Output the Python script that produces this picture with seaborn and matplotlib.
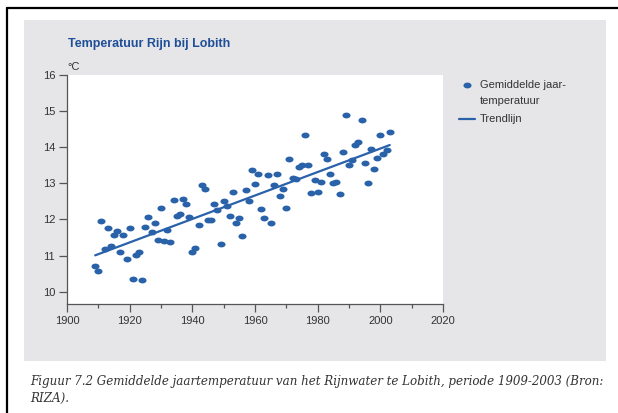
import matplotlib
matplotlib.use("Agg")
import matplotlib.pyplot as plt
from matplotlib import font_manager as fm
from matplotlib.path import Path
from matplotlib.patches import Rectangle
from matplotlib.lines import Line2D
from matplotlib.legend_handler import HandlerPathCollection
import numpy as np
import pandas as pd
import seaborn as sns

# ---- data ----
years = list(range(1909, 2004))
temps = [
    10.70, 10.56, 11.97, 11.18, 11.76, 11.27, 11.56, 11.67, 11.11, 11.57,  # 1909-1918
    10.90, 11.76, 10.35, 11.02, 11.09, 10.33, 11.78, 12.06, 11.64, 11.90,  # 1919-1928
    11.43, 12.32, 11.40, 11.71, 11.39, 12.55, 12.10, 12.15, 12.56, 12.42,  # 1929-1938
    12.06, 11.09, 11.20, 11.86, 12.96, 12.85, 11.99, 11.99, 12.42, 12.27,  # 1939-1948
    11.33, 12.52, 12.38, 12.11, 12.75, 11.91, 12.03, 11.53, 12.82, 12.51,  # 1949-1958
    13.37, 12.99, 13.26, 12.29, 12.04, 13.22, 11.89, 12.96, 13.27, 12.64,  # 1959-1968
    12.84, 12.31, 13.68, 13.15, 13.12, 13.46, 13.52, 14.33, 13.52, 12.73,  # 1969-1978
    13.09, 12.75, 13.04, 13.80, 13.67, 13.26, 13.02, 13.04, 12.71, 13.86,  # 1979-1988
    14.90, 13.50, 13.66, 14.06, 14.15, 14.75, 13.56, 13.02, 13.95, 13.39,  # 1989-1998
    13.71, 14.33, 13.80, 13.92, 14.42,                                      # 1999-2003
]
x_major = [1900, 1920, 1940, 1960, 1980, 2000, 2020]
x_minor = [1910, 1930, 1950, 1970, 1990, 2010]
y_ticks = [10, 11, 12, 13, 14, 15, 16]
title = "Temperatuur Rijn bij Lobith"
unit = "\u00b0C"
label_points = "Gemiddelde jaar-\ntemperatuur"
label_trend = "Trendlijn"
caption = ("Figuur 7.2 Gemiddelde jaartemperatuur van het Rijnwater te Lobith, periode 1909-2003 (Bron:\n"
           "RIZA).")

df = pd.DataFrame({"jaar": years, "temperatuur": temps})

# ---- style ----
sns.set_theme(style="ticks")
names = {f.name for f in fm.fontManager.ttflist}
narrow = "Liberation Sans Narrow" if "Liberation Sans Narrow" in names else "Liberation Sans"
plt.rcParams["font.family"] = [narrow, "DejaVu Sans"]

blue = "#2a62a9"
panel_grey = "#e6e6e8"
text_col = "#333333"

W, H = 618, 413
fig = plt.figure(figsize=(W / 100, H / 100), dpi=100)
fig.patch.set_facecolor("white")

def fx(px):
    return px / W

def fy(py):
    return 1 - py / H

# grey panel
fig.patches.append(Rectangle((fx(24), fy(361)), fx(606) - fx(24), fy(20) - fy(361),
                             transform=fig.transFigure, facecolor=panel_grey,
                             edgecolor="none", zorder=-5))
# black border (left and top)
fig.lines.append(Line2D([fx(7), fx(7)], [0, fy(8)], transform=fig.transFigure,
                        color="black", lw=1.6, zorder=-4))
fig.lines.append(Line2D([fx(7), 1], [fy(8), fy(8)], transform=fig.transFigure,
                        color="black", lw=1.6, zorder=-4))

ax = fig.add_axes([fx(67), fy(304), fx(443) - fx(67), fy(75) - fy(304)])
ax.set_zorder(2)
ax.set_facecolor("white")

t = np.linspace(0, 2 * np.pi, 40)
ellipse = Path(np.column_stack([np.cos(t), 0.72 * np.sin(t)]), closed=True)

sns.regplot(data=df, x="jaar", y="temperatuur", ci=None, ax=ax, color=blue,
            marker=ellipse, label=label_points,
            scatter_kws=dict(s=34, linewidths=0, alpha=1),
            line_kws=dict(lw=1.6, label=label_trend))

ax.set_xlim(1900, 2020)
ax.set_ylim(9.66, 16)
ax.set_xticks(x_major)
ax.set_xticks(x_minor, minor=True)
ax.set_yticks(y_ticks)
ax.set_xlabel("")
ax.set_ylabel("")
for s in ["top", "right"]:
    ax.spines[s].set_visible(False)
for s in ["left", "bottom"]:
    ax.spines[s].set_color("#555555")
    ax.spines[s].set_linewidth(0.9)
ax.tick_params(axis="both", which="major", direction="out", length=5.5, width=0.9,
               color="#555555", labelsize=8, labelcolor=text_col, pad=3)
ax.tick_params(axis="x", which="minor", direction="out", length=3, width=0.9,
               color="#555555")

fig.text(fx(68), fy(44), title, color="#1f4f99", fontsize=9, fontweight="bold",
         ha="left", va="center")
fig.text(fx(67), fy(67), unit, color=text_col, fontsize=8, ha="left", va="center")

handles, labels = ax.get_legend_handles_labels()
leg = fig.legend(handles, labels, loc="upper left", bbox_to_anchor=(fx(459), fy(80)),
                 bbox_transform=fig.transFigure, frameon=False, fontsize=8,
                 handlelength=1.4, handletextpad=0.45, labelspacing=0.8,
                 labelcolor=text_col, borderaxespad=0, borderpad=0,
                 handler_map={handles[0]: HandlerPathCollection(yoffsets=[1.55])})
leg.get_texts()[0].set_linespacing(1.7)

fig.text(fx(30), fy(390), caption, fontsize=8.6, family="DejaVu Serif", style="italic",
         color=text_col, ha="left", va="center", linespacing=1.35)

fig.savefig("out.png", dpi=100, facecolor="white")
